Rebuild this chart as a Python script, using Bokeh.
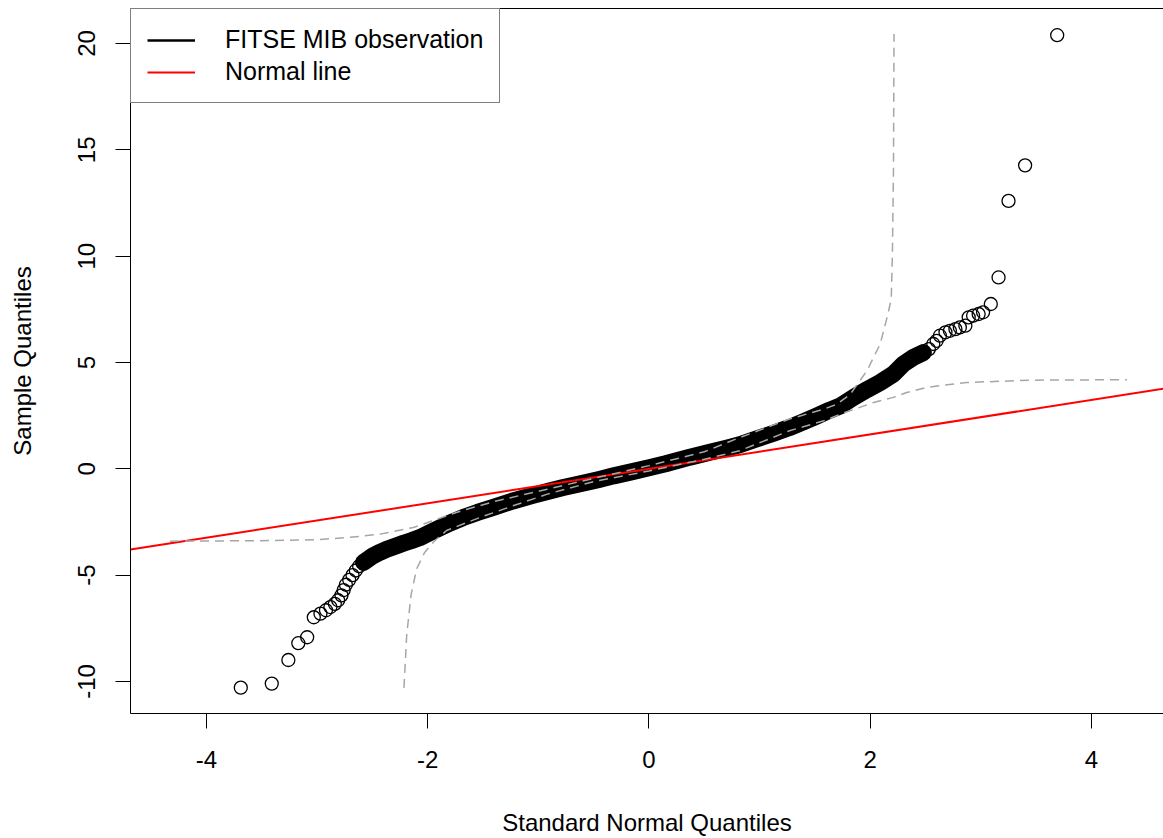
from bokeh.plotting import figure
from bokeh.models import Range1d, FixedTicker, LinearAxis, Legend, LegendItem
from bokeh.embed import file_html
from bokeh.resources import INLINE

# ---------------- data ----------------
x_ticks = [-4, -2, 0, 2, 4]
x_tick_labels = ["-4", "-2", "0", "2", "4"]
y_ticks = [-10, -5, 0, 5, 10, 15, 20]
y_tick_labels = ["-10", "-5", "0", "5", "10", "15", "20"]

# dense central part of the QQ curve (theoretical quantile, sample quantile)
band_x = [-2.58, -2.50, -2.43, -2.37, -2.30, -2.22, -2.15, -2.07, -1.98, -1.90,
          -1.80, -1.68, -1.55, -1.40, -1.23, -1.05, -0.90, -0.775, -0.60, -0.45,
          -0.32, -0.15, 0.00, 0.15, 0.37, 0.55, 0.70, 0.82, 0.97, 1.12,
          1.27, 1.40, 1.52, 1.63, 1.73, 1.85, 1.97, 2.09, 2.21, 2.30,
          2.39, 2.48]
band_y = [-4.40, -4.10, -3.92, -3.78, -3.65, -3.50, -3.38, -3.23, -3.00, -2.80,
          -2.55, -2.29, -2.05, -1.80, -1.51, -1.25, -1.04, -0.88, -0.68, -0.50,
          -0.33, -0.13, 0.05, 0.24, 0.55, 0.78, 0.97, 1.13, 1.40, 1.66,
          1.94, 2.22, 2.49, 2.75, 2.96, 3.36, 3.72, 4.06, 4.46, 4.93,
          5.24, 5.47]

# separately visible points in the lower tail
low_x = [-3.69, -3.41, -3.26, -3.17, -3.09, -3.03, -2.97, -2.92, -2.88, -2.84,
         -2.81, -2.78, -2.76, -2.74, -2.71, -2.68, -2.65, -2.62]
low_y = [-10.29, -10.10, -8.99, -8.20, -7.92, -6.98, -6.81, -6.65, -6.50, -6.35,
         -6.18, -5.95, -5.70, -5.45, -5.22, -5.00, -4.78, -4.58]

# separately visible points in the upper tail
up_x = [2.53, 2.57, 2.60, 2.63, 2.68, 2.72, 2.77, 2.81, 2.86, 2.89,
        2.93, 2.98, 3.02, 3.09, 3.16, 3.25, 3.40, 3.69]
up_y = [5.63, 5.87, 6.02, 6.26, 6.42, 6.49, 6.57, 6.65, 6.73, 7.12,
        7.20, 7.28, 7.36, 7.75, 9.00, 12.60, 14.27, 20.39]

# confidence envelope (grey dashed curves)
env_hi_x = [-4.33, -3.50, -3.00, -2.70, -2.43, -2.13, -1.83, -1.68, -1.38, -0.92,
            -0.50, 0.00, 0.50, 0.82, 1.27, 1.58, 1.70, 1.82, 1.97, 2.09,
            2.16, 2.19, 2.20, 2.21, 2.215]
env_hi_y = [-3.40, -3.38, -3.33, -3.22, -3.07, -2.76, -2.21, -1.95, -1.51, -0.96,
            -0.45, 0.15, 0.80, 1.47, 2.34, 2.81, 3.04, 3.51, 4.61, 5.87,
            7.28, 8.00, 10.00, 14.00, 20.45]
env_lo_x = [-2.215, -2.19, -2.15, -2.10, -2.03, -1.95, -1.83, -1.53, -1.23, -0.92,
            -0.50, 0.00, 0.50, 0.82, 1.27, 1.58, 1.73, 2.03, 2.21, 2.33,
            2.51, 2.87, 3.47, 4.32]
env_lo_y = [-10.30, -7.80, -5.90, -4.70, -3.95, -3.45, -2.90, -2.29, -1.74, -1.19,
            -0.60, -0.10, 0.45, 0.85, 1.79, 2.26, 2.57, 3.12, 3.36, 3.59,
            3.83, 4.06, 4.17, 4.19]

# reference normal line
normal_intercept = 0.0
normal_slope = 0.81

legend_labels = ["FITSE MIB observation", "Normal line"]

# ---------------- figure ----------------
X0, X1 = -4.687, 4.651
Y0, Y1 = -11.505, 21.646
FONT = "Liberation Sans"

p = figure(width=1163, height=838,
           x_range=Range1d(X0, X1), y_range=Range1d(Y0, Y1),
           output_backend="svg", toolbar_location=None,
           min_border_left=130, min_border_right=0,
           min_border_top=8, min_border_bottom=125,
           x_axis_label="Standard Normal Quantiles",
           y_axis_label="Sample Quantiles")
p.background_fill_color = "white"
p.border_fill_color = "white"
p.outline_line_color = None
p.xgrid.visible = False
p.ygrid.visible = False

for ax, ticks, labels in ((p.xaxis[0], x_ticks, x_tick_labels),
                          (p.yaxis[0], y_ticks, y_tick_labels)):
    ax.ticker = FixedTicker(ticks=ticks)
    ax.major_label_overrides = {t: l for t, l in zip(ticks, labels)}
    ax.minor_tick_line_color = None
    ax.major_tick_in = 0
    ax.major_tick_out = 15
    ax.axis_line_color = "black"
    ax.axis_line_width = 1
    ax.major_tick_line_color = "black"
    ax.major_label_text_font = FONT
    ax.major_label_text_font_size = "24px"
    ax.major_label_text_color = "black"
    ax.axis_label_text_font = FONT
    ax.axis_label_text_font_size = "24px"
    ax.axis_label_text_font_style = "normal"
    ax.axis_label_text_color = "black"

p.xaxis[0].major_label_standoff = 22
p.xaxis[0].axis_label_standoff = 38
p.yaxis[0].major_label_orientation = "vertical"
p.yaxis[0].major_label_standoff = 20
p.yaxis[0].axis_label_standoff = 40

top = LinearAxis(ticker=FixedTicker(ticks=[]), major_tick_out=0, major_tick_in=0,
                 minor_tick_line_color=None, major_label_text_font_size="0px",
                 axis_line_color="black")
p.add_layout(top, "above")

# dense band of overlapping points
p.line(band_x, band_y, line_color="black", line_width=17,
       line_join="round", line_cap="round")
obs_line = p.line(band_x, band_y, line_color="black", line_width=2.5)
p.scatter(band_x, band_y, marker="circle", size=13, fill_color=None,
          line_color="black", line_width=1.3)
# tail points
p.scatter(low_x, low_y, marker="circle", size=13, fill_color=None,
          line_color="black", line_width=1.3)
p.scatter(up_x, up_y, marker="circle", size=13, fill_color=None,
          line_color="black", line_width=1.3)

# normal reference line
nx = [X0, X1]
ny = [normal_intercept + normal_slope * v for v in nx]
normal_r = p.line(nx, ny, line_color="red", line_width=2)

# envelope
p.line(env_hi_x, env_hi_y, line_color="#a6a6a6", line_width=1.5, line_dash="9 6")
p.line(env_lo_x, env_lo_y, line_color="#a6a6a6", line_width=1.5, line_dash="9 6")

# legend (R-style lines)
legend = Legend(items=[LegendItem(label=legend_labels[0], renderers=[obs_line]),
                       LegendItem(label=legend_labels[1], renderers=[normal_r])],
                location="top_left", margin=0, padding=16, spacing=3,
                glyph_width=48, glyph_height=26, label_height=26,
                label_standoff=30,
                label_text_font=FONT, label_text_font_size="25px",
                label_text_color="black",
                border_line_color="black", border_line_width=1,
                background_fill_color="white", background_fill_alpha=1.0)
p.add_layout(legend)

open("out.html", "w").write(file_html(p, INLINE))
